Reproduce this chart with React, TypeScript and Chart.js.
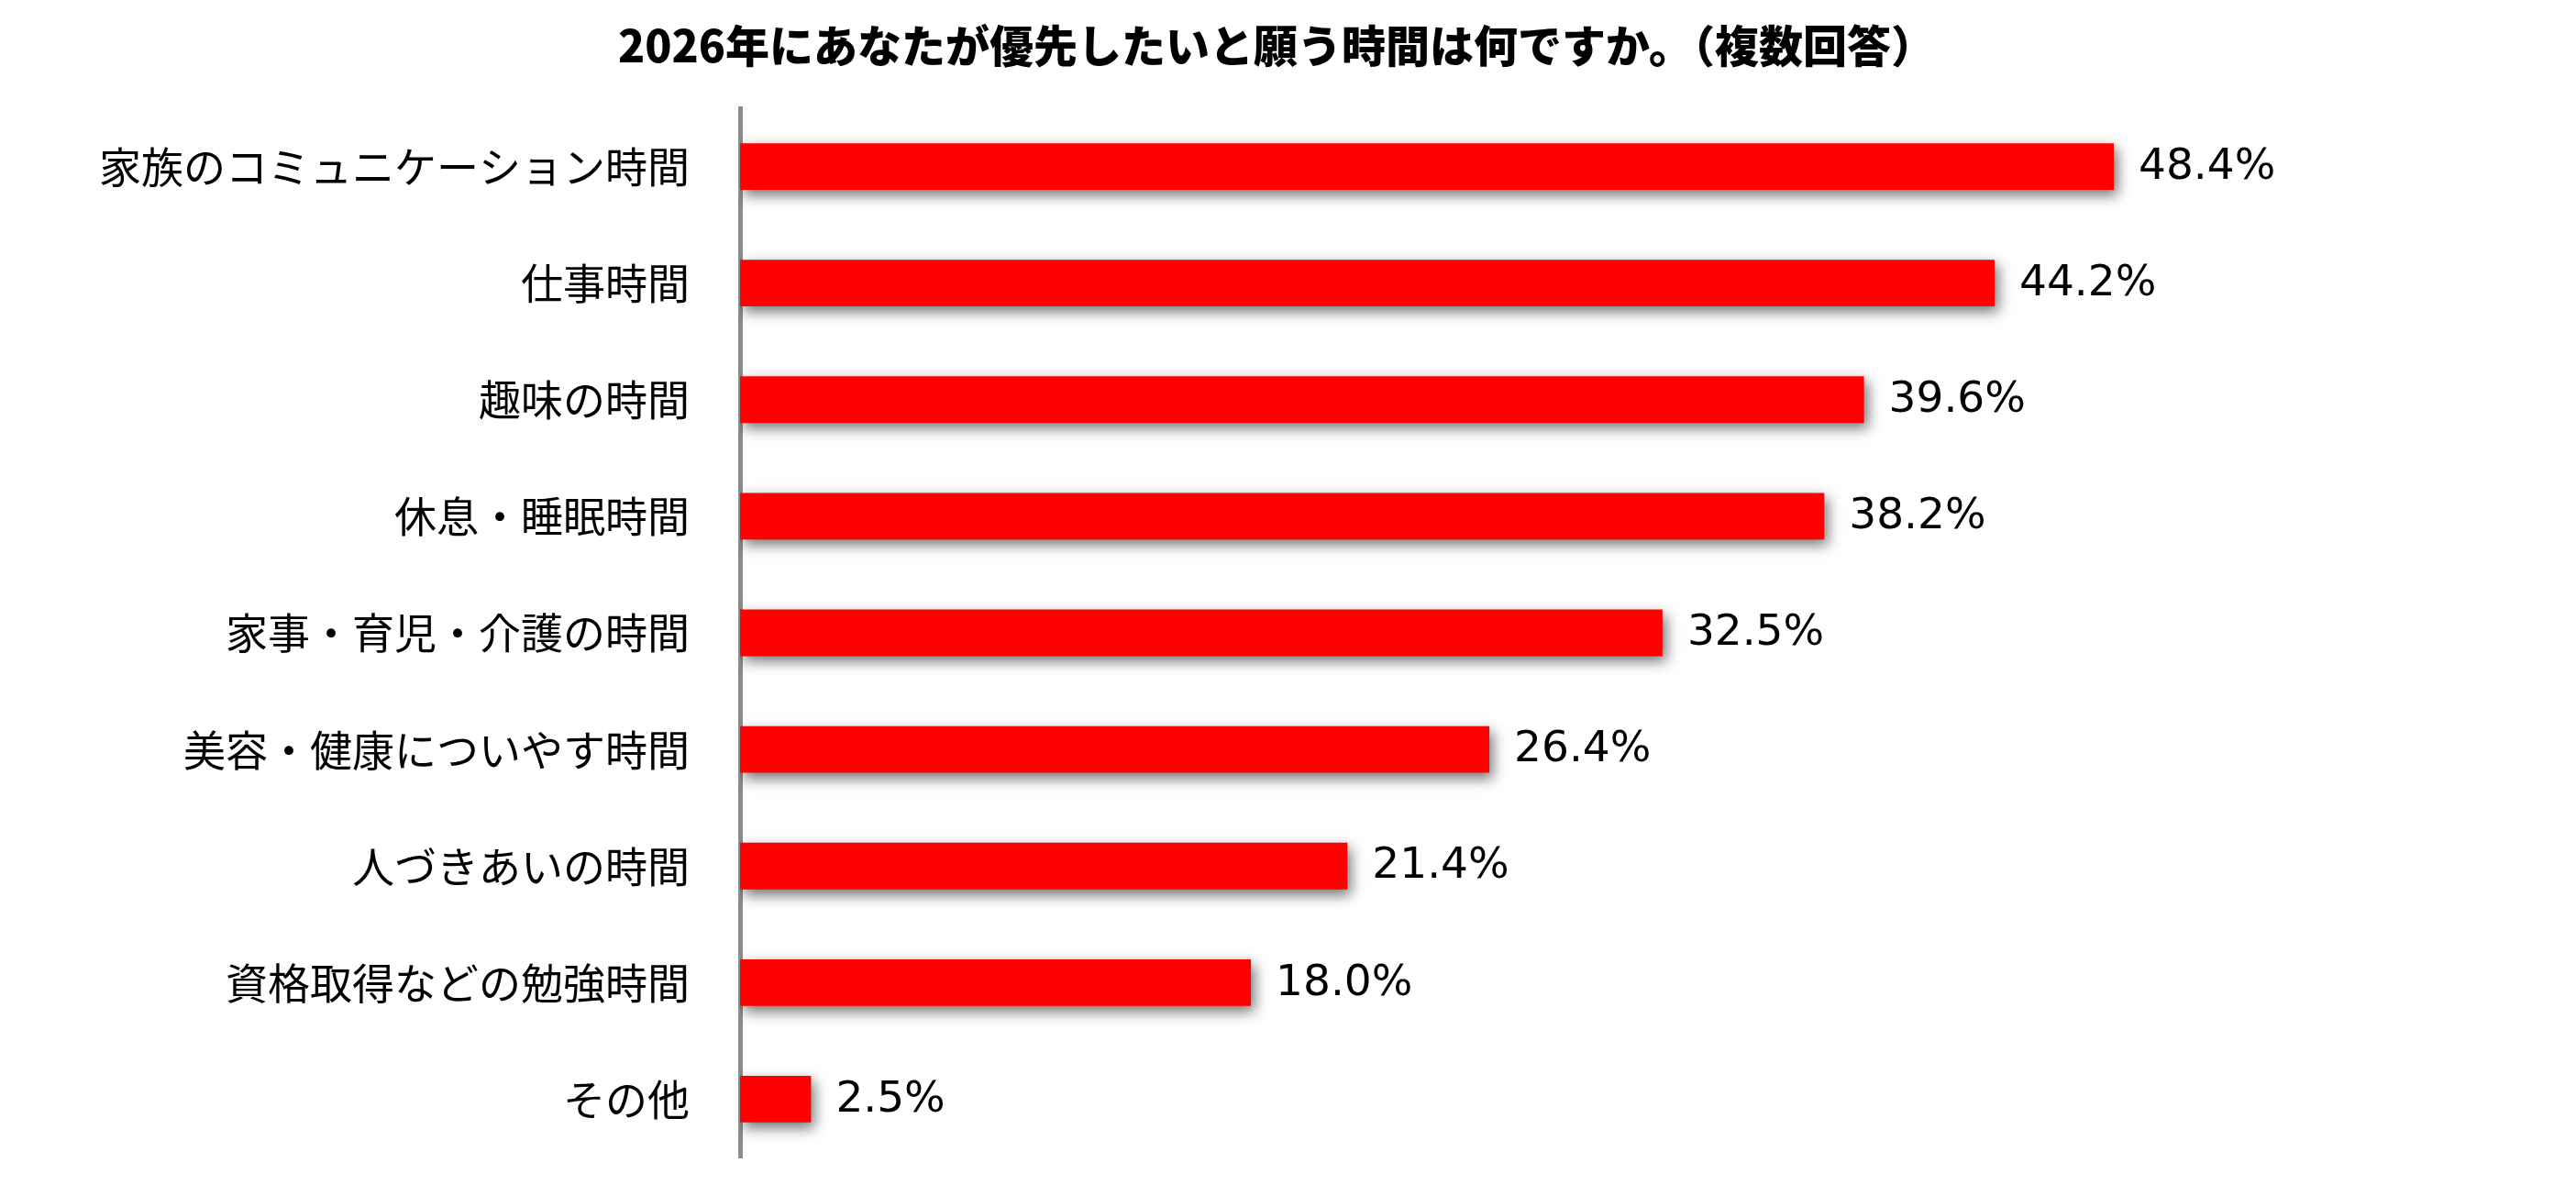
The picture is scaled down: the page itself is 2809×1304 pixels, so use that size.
import React, { useEffect, useRef } from "react";
import { Chart, registerables } from "chart.js";

Chart.register(...registerables);

const titleText = "2026年にあなたが優先したいと願う時間は何ですか。（複数回答）";
const categories = [
  "家族のコミュニケーション時間",
  "仕事時間",
  "趣味の時間",
  "休息・睡眠時間",
  "家事・育児・介護の時間",
  "美容・健康についやす時間",
  "人づきあいの時間",
  "資格取得などの勉強時間",
  "その他",
];
const values = [48.4, 44.2, 39.6, 38.2, 32.5, 26.4, 21.4, 18.0, 2.5];

const W = 2809;
const H = 1304;

const shadowAndLabels = {
  id: "shadowAndLabels",
  beforeDatasetsDraw(chart: any) {
    const ctx = chart.ctx;
    ctx.save();
    ctx.shadowColor = "rgba(0,0,0,0.55)";
    ctx.shadowBlur = 14;
    ctx.shadowOffsetX = 4;
    ctx.shadowOffsetY = 6;
  },
  afterDatasetsDraw(chart: any) {
    const ctx = chart.ctx;
    ctx.restore();
    const meta = chart.getDatasetMeta(0);
    ctx.save();
    ctx.font = "47px 'DejaVu Sans'";
    ctx.fillStyle = "#000000";
    ctx.textAlign = "left";
    ctx.textBaseline = "middle";
    meta.data.forEach((bar: any, i: number) => {
      const v = values[i];
      ctx.fillText(v.toFixed(1) + "%", bar.x + 27, bar.y + 1);
    });
    ctx.restore();
  },
  afterDraw(chart: any) {
    const ctx = chart.ctx;
    ctx.save();
    ctx.font = "900 48px 'Noto Sans CJK JP'";
    ctx.fillStyle = "#000000";
    ctx.textAlign = "center";
    ctx.textBaseline = "middle";
    ctx.fillText(titleText, 1392, 50);
    ctx.restore();
  },
};

export default function App() {
  const ref = useRef<HTMLCanvasElement | null>(null);
  useEffect(() => {
    if (!ref.current) return;
    const chart = new Chart(ref.current, {
      type: "bar",
      data: {
        labels: categories,
        datasets: [
          {
            data: values,
            backgroundColor: "#FF0000",
            borderWidth: 0,
            categoryPercentage: 1,
            barPercentage: 0.4,
          },
        ],
      },
      options: {
        indexAxis: "y",
        animation: false,
        responsive: false,
        devicePixelRatio: 1,
        layout: { padding: { top: 118, left: 0, right: 145, bottom: 42 } },
        plugins: {
          legend: { display: false },
          tooltip: { enabled: false },
          title: { display: false },
        },
        scales: {
          x: {
            display: false,
            min: 0,
            max: 60,
          },
          y: {
            afterFit(scale: any) {
              scale.width = 807;
              scale.paddingTop = 0;
              scale.paddingBottom = 0;
            },
            grid: { display: true, drawOnChartArea: false, drawTicks: false },
            border: { display: true, color: "#8C8C8C", width: 5 },
            ticks: {
              color: "#000000",
              padding: 55,
              font: { family: "'Noto Sans CJK JP'", size: 46, weight: "normal" },
            },
          },
        },
      },
      plugins: [shadowAndLabels],
    } as any);
    return () => chart.destroy();
  }, []);
  return (
    <div style={{ position: "fixed", left: 0, top: 0, width: W, height: H, background: "#fff" }}>
      <canvas ref={ref} width={W} height={H} style={{ width: W, height: H, display: "block" }} />
    </div>
  );
}
